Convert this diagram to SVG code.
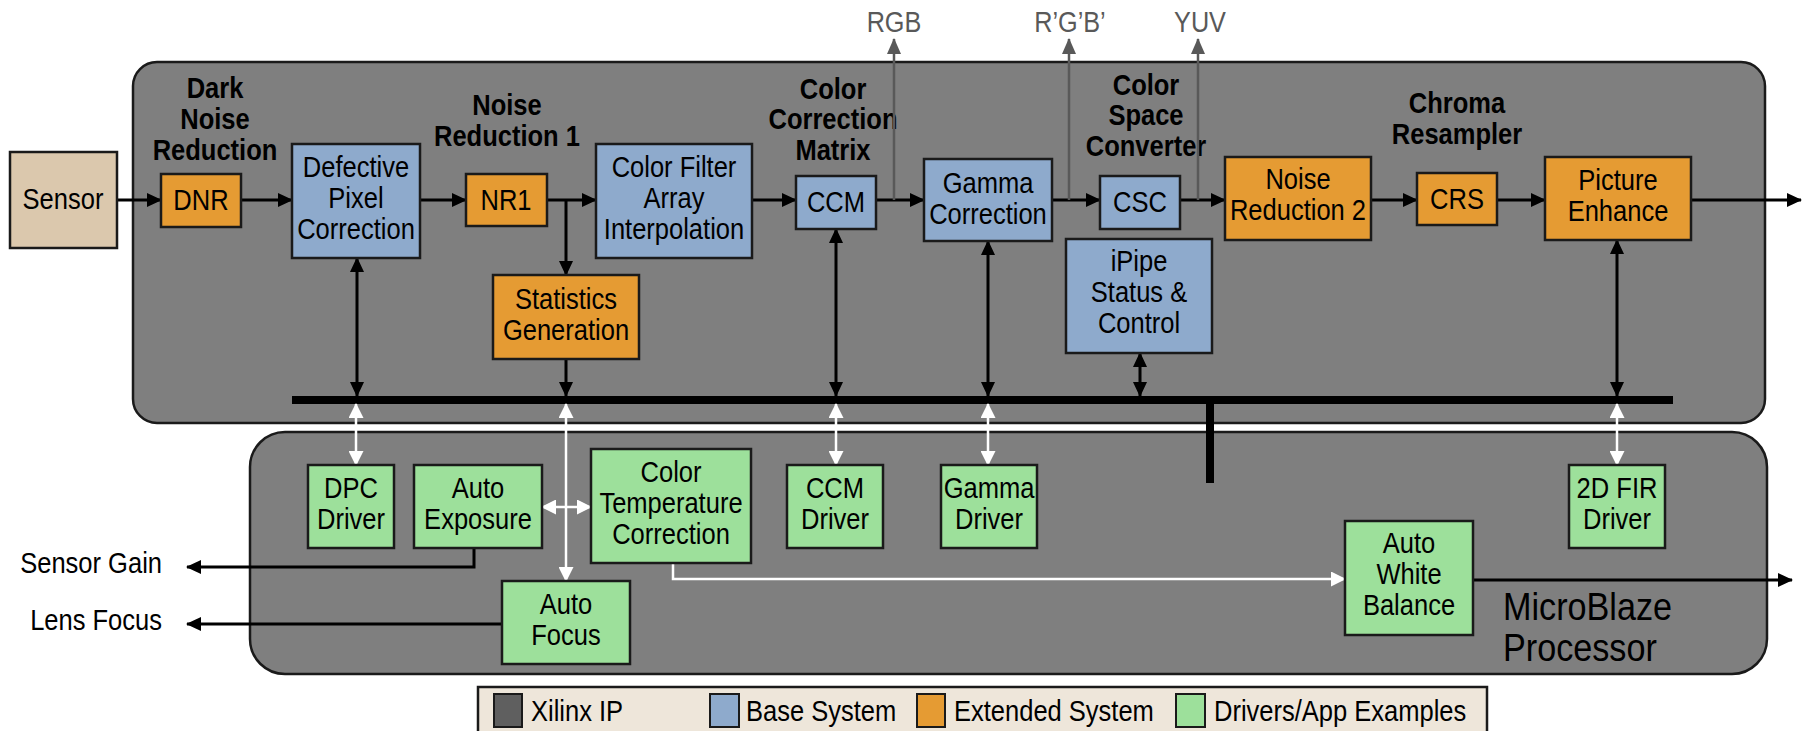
<svg xmlns="http://www.w3.org/2000/svg" width="1806" height="731" viewBox="0 0 1806 731">
  <style>
    text { font-family: "Liberation Sans", Arial, sans-serif; transform-box: fill-box; }
    .t { font-size: 29px; fill: #000; text-anchor: middle; transform-origin: center; transform: scaleX(0.88); }
    .b { font-size: 29px; font-weight: bold; fill: #000; text-anchor: middle; transform-origin: center; transform: scaleX(0.88); }
    .g { font-size: 29px; fill: #595959; text-anchor: middle; transform-origin: center; transform: scaleX(0.87); }
    .l { font-size: 29px; fill: #000; transform-origin: left; transform: scaleX(0.88); }
    .r { font-size: 29px; fill: #000; text-anchor: end; transform-origin: right; transform: scaleX(0.88); }
    .mb { font-size: 38px; fill: #000; transform-origin: left; transform: scaleX(0.9); }
    .box { stroke: #1a1a1a; stroke-width: 2.5; }
    .blue { fill: #8eaacc; }
    .orange { fill: #e59b33; }
    .green { fill: #9de09b; }
    .sensor { fill: #dbc8ad; }
    .cont { fill: #7f7f7f; stroke: #1a1a1a; stroke-width: 2.5; }
    .k { fill: none; stroke: #000; stroke-width: 3; }
    .w { fill: none; stroke: #fff; stroke-width: 2.5; }
    .gr { fill: none; stroke: #595959; stroke-width: 2.5; }
  </style>
  <defs>
    <marker id="ak" markerUnits="userSpaceOnUse" markerWidth="15" markerHeight="14" refX="14" refY="7" orient="auto-start-reverse" viewBox="0 0 15 14">
      <path d="M0,0 L15,7 L0,14 z" fill="#000"/>
    </marker>
    <marker id="aw" markerUnits="userSpaceOnUse" markerWidth="15" markerHeight="15" refX="14" refY="7.5" orient="auto-start-reverse" viewBox="0 0 15 15">
      <path d="M0,0 L15,7.5 L0,15 z" fill="#fff"/>
    </marker>
    <marker id="ag" markerUnits="userSpaceOnUse" markerWidth="16" markerHeight="14" refX="15" refY="7" orient="auto" viewBox="0 0 16 14">
      <path d="M0,0 L16,7 L0,14 z" fill="#595959"/>
    </marker>
  </defs>

  <!-- containers -->
  <g id="ipipe-container">
    <rect class="cont" x="133" y="62" width="1632" height="361" rx="24"/>
  </g>
  <g id="microblaze-container">
    <rect class="cont" x="250" y="432" width="1517" height="242" rx="35"/>
    <text class="mb" x="1503" y="620">MicroBlaze</text>
    <text class="mb" x="1503" y="661">Processor</text>
  </g>

  <!-- stage captions -->
  <g id="captions">
    <text class="b" x="215" y="98">Dark</text>
    <text class="b" x="215" y="129">Noise</text>
    <text class="b" x="215" y="160">Reduction</text>
    <text class="b" x="507" y="115">Noise</text>
    <text class="b" x="507" y="146">Reduction 1</text>
    <text class="b" x="833" y="99">Color</text>
    <text class="b" x="833" y="129">Correction</text>
    <text class="b" x="833" y="160">Matrix</text>
    <text class="b" x="1146" y="95">Color</text>
    <text class="b" x="1146" y="125">Space</text>
    <text class="b" x="1146" y="156">Converter</text>
    <text class="b" x="1457" y="113">Chroma</text>
    <text class="b" x="1457" y="144">Resampler</text>
  </g>

  <!-- connectors -->
  <g id="connectors">
    <!-- video pipeline -->
    <path class="k" d="M117,200 H161" marker-end="url(#ak)"/>
    <path class="k" d="M241,200 H292" marker-end="url(#ak)"/>
    <path class="k" d="M420,200 H466" marker-end="url(#ak)"/>
    <path class="k" d="M547,200 H596" marker-end="url(#ak)"/>
    <path class="k" d="M566,200 V275" marker-end="url(#ak)"/>
    <path class="k" d="M752,200 H796" marker-end="url(#ak)"/>
    <path class="k" d="M876,200 H924" marker-end="url(#ak)"/>
    <path class="k" d="M1052,200 H1100" marker-end="url(#ak)"/>
    <path class="k" d="M1180,200 H1225" marker-end="url(#ak)"/>
    <path class="k" d="M1371,200 H1417" marker-end="url(#ak)"/>
    <path class="k" d="M1497,200 H1545" marker-end="url(#ak)"/>
    <path class="k" d="M1691,200 H1801" marker-end="url(#ak)"/>
    <!-- taps -->
    <path class="gr" d="M894,200 V39" marker-end="url(#ag)"/>
    <path class="gr" d="M1069,200 V39" marker-end="url(#ag)"/>
    <path class="gr" d="M1198,200 V39" marker-end="url(#ag)"/>
    <!-- control bus -->
    <rect x="292" y="396" width="1381" height="8" fill="#000"/>
    <rect x="1206" y="400" width="8" height="83" fill="#000"/>
    <path class="k" d="M357,258 V396" marker-start="url(#ak)" marker-end="url(#ak)"/>
    <path class="k" d="M836,229 V396" marker-start="url(#ak)" marker-end="url(#ak)"/>
    <path class="k" d="M988,241 V396" marker-start="url(#ak)" marker-end="url(#ak)"/>
    <path class="k" d="M1140,353 V396" marker-start="url(#ak)" marker-end="url(#ak)"/>
    <path class="k" d="M1617,240 V396" marker-start="url(#ak)" marker-end="url(#ak)"/>
    <path class="k" d="M566,359 V396" marker-end="url(#ak)"/>
    <!-- software links -->
    <path class="w" d="M356,404 V465" marker-start="url(#aw)" marker-end="url(#aw)"/>
    <path class="w" d="M836,404 V465" marker-start="url(#aw)" marker-end="url(#aw)"/>
    <path class="w" d="M988,404 V465" marker-start="url(#aw)" marker-end="url(#aw)"/>
    <path class="w" d="M1617,404 V465" marker-start="url(#aw)" marker-end="url(#aw)"/>
    <path class="w" d="M566,404 V581" marker-start="url(#aw)" marker-end="url(#aw)"/>
    <path class="w" d="M542,507 H591" marker-start="url(#aw)" marker-end="url(#aw)"/>
    <path class="w" d="M673,563 V579 H1345" marker-end="url(#aw)"/>
    <!-- outputs -->
    <path class="k" d="M1473,580 H1792" marker-end="url(#ak)"/>
    <path class="k" d="M474,548 V567 H187" marker-end="url(#ak)"/>
    <path class="k" d="M502,624 H187" marker-end="url(#ak)"/>
  </g>

  <!-- tap / output labels -->
  <g id="labels">
    <text class="g" x="894" y="32">RGB</text>
    <text class="g" x="1070" y="32">R’G’B’</text>
    <text class="g" x="1200" y="32">YUV</text>
    <text class="r" x="162" y="573">Sensor Gain</text>
    <text class="r" x="162" y="630">Lens Focus</text>
  </g>

  <!-- pipeline blocks -->
  <g id="sensor">
    <rect class="box sensor" x="10" y="152" width="107" height="96"/>
    <text class="t" x="63" y="209">Sensor</text>
  </g>
  <g id="dnr">
    <rect class="box orange" x="161" y="174" width="80" height="53"/>
    <text class="t" x="201" y="210">DNR</text>
  </g>
  <g id="dpc">
    <rect class="box blue" x="292" y="144" width="128" height="114"/>
    <text class="t" x="356" y="177">Defective</text>
    <text class="t" x="356" y="208">Pixel</text>
    <text class="t" x="356" y="239">Correction</text>
  </g>
  <g id="nr1">
    <rect class="box orange" x="466" y="174" width="81" height="52"/>
    <text class="t" x="506" y="210">NR1</text>
  </g>
  <g id="cfa">
    <rect class="box blue" x="596" y="144" width="156" height="114"/>
    <text class="t" x="674" y="177">Color Filter</text>
    <text class="t" x="674" y="208">Array</text>
    <text class="t" x="674" y="239">Interpolation</text>
  </g>
  <g id="ccm">
    <rect class="box blue" x="796" y="176" width="80" height="53"/>
    <text class="t" x="836" y="212">CCM</text>
  </g>
  <g id="gamma">
    <rect class="box blue" x="924" y="159" width="128" height="82"/>
    <text class="t" x="988" y="193">Gamma</text>
    <text class="t" x="988" y="224">Correction</text>
  </g>
  <g id="csc">
    <rect class="box blue" x="1100" y="176" width="80" height="53"/>
    <text class="t" x="1140" y="212">CSC</text>
  </g>
  <g id="nr2">
    <rect class="box orange" x="1225" y="157" width="146" height="83"/>
    <text class="t" x="1298" y="189">Noise</text>
    <text class="t" x="1298" y="220">Reduction 2</text>
  </g>
  <g id="crs">
    <rect class="box orange" x="1417" y="173" width="80" height="52"/>
    <text class="t" x="1457" y="209">CRS</text>
  </g>
  <g id="picture-enhance">
    <rect class="box orange" x="1545" y="157" width="146" height="83"/>
    <text class="t" x="1618" y="190">Picture</text>
    <text class="t" x="1618" y="221">Enhance</text>
  </g>
  <g id="statistics">
    <rect class="box orange" x="493" y="275" width="146" height="84"/>
    <text class="t" x="566" y="309">Statistics</text>
    <text class="t" x="566" y="340">Generation</text>
  </g>
  <g id="ipipe-status">
    <rect class="box blue" x="1066" y="239" width="146" height="114"/>
    <text class="t" x="1139" y="271">iPipe</text>
    <text class="t" x="1139" y="302">Status &amp;</text>
    <text class="t" x="1139" y="333">Control</text>
  </g>

  <!-- processor software blocks -->
  <g id="dpc-driver">
    <rect class="box green" x="308" y="465" width="86" height="83"/>
    <text class="t" x="351" y="498">DPC</text>
    <text class="t" x="351" y="529">Driver</text>
  </g>
  <g id="auto-exposure">
    <rect class="box green" x="414" y="465" width="128" height="83"/>
    <text class="t" x="478" y="498">Auto</text>
    <text class="t" x="478" y="529">Exposure</text>
  </g>
  <g id="color-temperature">
    <rect class="box green" x="591" y="449" width="160" height="114"/>
    <text class="t" x="671" y="482">Color</text>
    <text class="t" x="671" y="513">Temperature</text>
    <text class="t" x="671" y="544">Correction</text>
  </g>
  <g id="ccm-driver">
    <rect class="box green" x="787" y="465" width="96" height="83"/>
    <text class="t" x="835" y="498">CCM</text>
    <text class="t" x="835" y="529">Driver</text>
  </g>
  <g id="gamma-driver">
    <rect class="box green" x="941" y="465" width="96" height="83"/>
    <text class="t" x="989" y="498">Gamma</text>
    <text class="t" x="989" y="529">Driver</text>
  </g>
  <g id="fir-driver">
    <rect class="box green" x="1569" y="465" width="96" height="83"/>
    <text class="t" x="1617" y="498">2D FIR</text>
    <text class="t" x="1617" y="529">Driver</text>
  </g>
  <g id="auto-focus">
    <rect class="box green" x="502" y="581" width="128" height="83"/>
    <text class="t" x="566" y="614">Auto</text>
    <text class="t" x="566" y="645">Focus</text>
  </g>
  <g id="auto-white-balance">
    <rect class="box green" x="1345" y="521" width="128" height="114"/>
    <text class="t" x="1409" y="553">Auto</text>
    <text class="t" x="1409" y="584">White</text>
    <text class="t" x="1409" y="615">Balance</text>
  </g>

  <!-- legend -->
  <g id="legend">
    <rect x="478" y="687" width="1009" height="60" fill="#eee6da" stroke="#1a1a1a" stroke-width="2.5"/>
    <rect x="494" y="694" width="28" height="33" fill="#5f5f5f" stroke="#1a1a1a" stroke-width="2"/>
    <text class="l" x="531" y="721">Xilinx IP</text>
    <rect x="710" y="694" width="29" height="33" fill="#8eaacc" stroke="#1a1a1a" stroke-width="2"/>
    <text class="l" x="746" y="721">Base System</text>
    <rect x="917" y="694" width="28" height="33" fill="#e59b33" stroke="#1a1a1a" stroke-width="2"/>
    <text class="l" x="954" y="721">Extended System</text>
    <rect x="1176" y="694" width="29" height="33" fill="#9de09b" stroke="#1a1a1a" stroke-width="2"/>
    <text class="l" x="1214" y="721">Drivers/App Examples</text>
  </g>
</svg>
